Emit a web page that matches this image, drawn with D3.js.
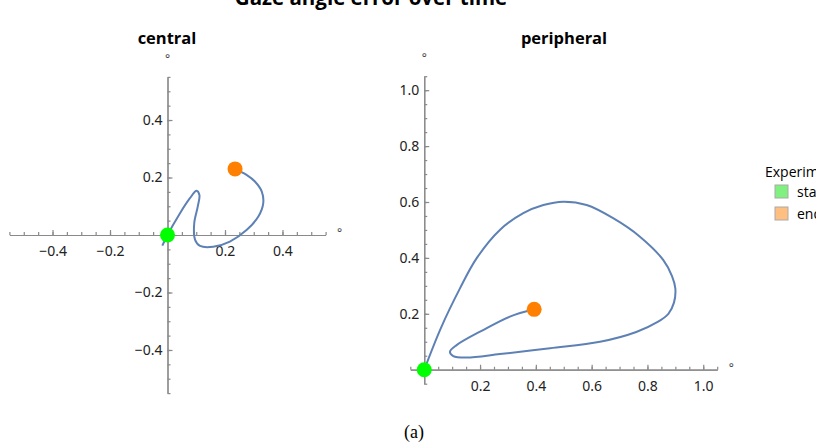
<!DOCTYPE html>
<html>
<head>
<meta charset="utf-8">
<script src="https://cdn.jsdelivr.net/npm/d3@7"></script>
<style>
  body { margin: 0; background: #fff; }
  svg { display: block; }
</style>
</head>
<body>
<svg id="chart"></svg>
<script>
// data (degrees)
const centralX = [-0.018, 0.0, 0.043, 0.078, 0.101, 0.111, 0.105, 0.093, 0.096, 0.113, 0.159, 0.217, 0.275, 0.316, 0.333, 0.328, 0.304, 0.275, 0.235];
const centralY = [-0.037, 0.0, 0.075, 0.128, 0.154, 0.139, 0.098, 0.041, -0.017, -0.038, -0.041, -0.023, 0.017, 0.064, 0.110, 0.151, 0.186, 0.209, 0.230];

const peripheralX = [0.0, 0.06, 0.128, 0.188, 0.271, 0.355, 0.427, 0.498, 0.582, 0.677, 0.773, 0.857, 0.888, 0.900, 0.895, 0.875, 0.835, 0.760, 0.630, 0.451, 0.271, 0.152, 0.104, 0.092, 0.116, 0.211, 0.307, 0.394];
const peripheralY = [0.0, 0.15, 0.291, 0.399, 0.500, 0.560, 0.589, 0.601, 0.589, 0.542, 0.476, 0.392, 0.335, 0.290, 0.240, 0.200, 0.170, 0.135, 0.100, 0.077, 0.056, 0.044, 0.049, 0.064, 0.088, 0.142, 0.190, 0.216];

const centralXTicks = [-0.4, -0.2, 0.2, 0.4];
const centralYTicks = [-0.4, -0.2, 0.2, 0.4];
const peripheralXTicks = [0.2, 0.4, 0.6, 0.8, 1.0];
const peripheralYTicks = [0.2, 0.4, 0.6, 0.8, 1.0];

const legendTitle = "Experiment";
const legendItems = ["start", "end"];

const width = 816, height = 446;
const lineColor = "#5e81b5";
const axisColor = "#8a8a8a";
const startColor = "#00ff00";
const endColor = "#ff8000";

const svg = d3.select("#chart").attr("width", width).attr("height", height);

svg.append("text")
    .attr("x", 371).attr("y", 5)
    .attr("text-anchor", "middle")
    .style("font-family", "'Open Sans', sans-serif")
    .style("font-weight", "bold")
    .style("font-size", "20.5px")
    .text("Gaze angle error over time");

function fmt(d) {
    return d3.format(".1f")(d).replace("-", "\u2212");
}

function drawPanel(opts) {
    const x = d3.scaleLinear().domain(opts.xDomain).range(opts.xRange);
    const y = d3.scaleLinear().domain(opts.yDomain).range(opts.yRange);
    const g = svg.append("g");

    g.append("text")
        .attr("x", opts.titleX).attr("y", 44)
        .attr("text-anchor", "middle")
        .style("font-family", "'Open Sans', sans-serif")
        .style("font-weight", "bold")
        .style("font-size", "16.5px")
        .text(opts.title);

    const minorX = d3.range(Math.ceil(opts.xDomain[0] * 20), Math.floor(opts.xDomain[1] * 20) + 1).map(d => d / 20);
    const minorY = d3.range(Math.ceil(opts.yDomain[0] * 20), Math.floor(opts.yDomain[1] * 20) + 1).map(d => d / 20);

    // minor ticks
    g.append("g")
        .attr("transform", `translate(0,${y(0)})`)
        .call(d3.axisBottom(x).tickValues(minorX).tickSize(-3).tickSizeOuter(0).tickFormat(""));
    g.append("g")
        .attr("transform", `translate(${x(0)},0)`)
        .call(d3.axisLeft(y).tickValues(minorY).tickSize(-3).tickSizeOuter(0).tickFormat(""));

    // major ticks with labels
    g.append("g")
        .attr("transform", `translate(0,${y(0)})`)
        .call(d3.axisBottom(x).tickValues(opts.xTicks).tickSize(-5).tickSizeOuter(0).tickPadding(11).tickFormat(fmt));
    g.append("g")
        .attr("transform", `translate(${x(0)},0)`)
        .call(d3.axisLeft(y).tickValues(opts.yTicks).tickSize(-5).tickSizeOuter(0).tickPadding(5).tickFormat(fmt));

    g.selectAll(".domain, .tick line").attr("stroke", axisColor).attr("stroke-width", 1.2);
    g.selectAll(".tick text")
        .attr("fill", "#222")
        .style("font-family", "'Noto Sans', sans-serif")
        .style("font-size", "14px");

    // degree units
    g.append("text")
        .attr("x", x(0)).attr("y", opts.yRange[1] - 14)
        .attr("text-anchor", "middle")
        .attr("fill", "#444")
        .style("font-family", "'Noto Sans', sans-serif")
        .style("font-size", "12px")
        .text("\u00b0");
    g.append("text")
        .attr("x", opts.xRange[1] + 14).attr("y", y(0) + 2)
        .attr("text-anchor", "middle")
        .attr("fill", "#444")
        .style("font-family", "'Noto Sans', sans-serif")
        .style("font-size", "12px")
        .text("\u00b0");

    const pts = opts.xs.map((v, i) => [v, opts.ys[i]]);
    const line = d3.line().x(d => x(d[0])).y(d => y(d[1])).curve(d3.curveCatmullRom.alpha(0.5));

    g.append("path")
        .datum(pts)
        .attr("d", line)
        .attr("fill", "none")
        .attr("stroke", lineColor)
        .attr("stroke-width", 2);

    g.append("circle")
        .attr("cx", x(0)).attr("cy", y(0)).attr("r", 7.5)
        .attr("fill", startColor);
    g.append("circle")
        .attr("cx", x(pts[pts.length - 1][0])).attr("cy", y(pts[pts.length - 1][1])).attr("r", 7.5)
        .attr("fill", endColor);
}

drawPanel({
    title: "central", titleX: 167,
    xs: centralX, ys: centralY,
    xDomain: [-0.55, 0.55], xRange: [9.4, 325.6],
    yDomain: [-0.55, 0.55], yRange: [393.1, 76.9],
    xTicks: centralXTicks, yTicks: centralYTicks
});

drawPanel({
    title: "peripheral", titleX: 564,
    xs: peripheralX, ys: peripheralY,
    xDomain: [-0.05, 1.05], xRange: [410.3, 717.2],
    yDomain: [-0.05, 1.05], yRange: [383.7, 76.2],
    xTicks: peripheralXTicks, yTicks: peripheralYTicks
});

// legend (clipped by the page edge as in the reference)
const legend = svg.append("g").attr("transform", "translate(765,0)");
legend.append("text")
    .attr("x", 0).attr("y", 177)
    .style("font-family", "'Open Sans', sans-serif")
    .style("font-size", "14px")
    .text(legendTitle);
const swatchColors = ["#80f080", "#ffbf80"];
legendItems.forEach((name, i) => {
    legend.append("rect")
        .attr("x", 10).attr("y", 185 + i * 22)
        .attr("width", 13).attr("height", 13)
        .attr("fill", swatchColors[i])
        .attr("stroke", "#aaa");
    legend.append("text")
        .attr("x", 32).attr("y", 197 + i * 22)
        .style("font-family", "'Open Sans', sans-serif")
        .style("font-size", "14px")
        .text(name);
});

svg.append("text")
    .attr("x", 414).attr("y", 438)
    .attr("text-anchor", "middle")
    .style("font-family", "'Liberation Serif', serif")
    .style("font-size", "18px")
    .text("(a)");
</script>
</body>
</html>
